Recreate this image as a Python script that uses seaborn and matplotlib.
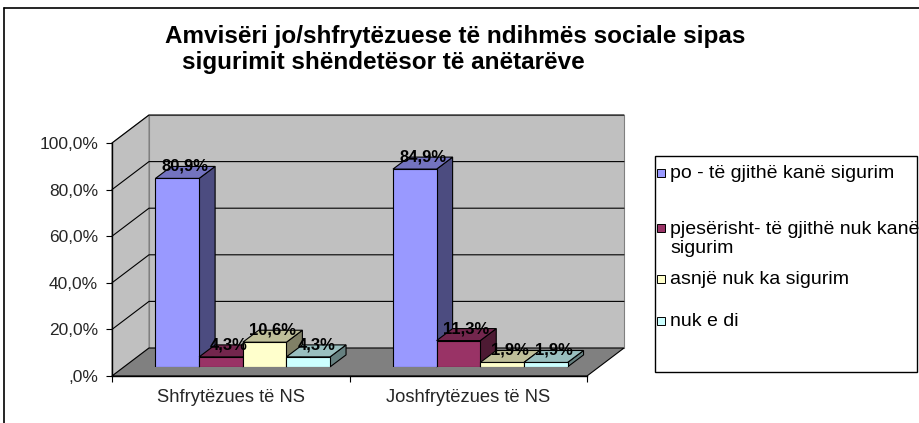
import numpy as np
import pandas as pd
import matplotlib
matplotlib.use("Agg")
import matplotlib.pyplot as plt
import seaborn as sns
from matplotlib.patches import Polygon, Rectangle
from matplotlib.lines import Line2D

# ---------------- data ----------------
categories = ["Shfrytëzues të NS", "Joshfrytëzues të NS"]
series = ["po - të gjithë kanë sigurim",
          "pjesërisht- të gjithë nuk kanë\nsigurim",
          "asnjë nuk ka sigurim",
          "nuk e di"]
v_po = [80.9, 84.9]
v_pjeserisht = [4.3, 11.3]
v_asnje = [10.6, 1.9]
v_nukedi = [4.3, 1.9]
yticks = [0, 20, 40, 60, 80, 100]
ytick_labels = [",0%", "20,0%", "40,0%", "60,0%", "80,0%", "100,0%"]
title_line1 = "Amvisëri jo/shfrytëzuese të ndihmës sociale sipas"
title_line2 = "sigurimit shëndetësor të anëtarëve"

colors = ["#9999FF", "#993366", "#FFFFCC", "#CCFFFF"]
side_colors = ["#4C4C80", "#4D1A33", "#808066", "#668080"]
top_colors = ["#7373BF", "#73264D", "#BFBF99", "#99BFBF"]

rows = []
for s, vals in zip(series, [v_po, v_pjeserisht, v_asnje, v_nukedi]):
    for c, v in zip(categories, vals):
        rows.append({"cat": c, "series": s, "val": v})
df = pd.DataFrame(rows)

# ---------------- figure ----------------
sns.set_theme(style="white")
plt.rcParams["font.family"] = ["Liberation Sans", "DejaVu Sans"]

W, H, DPI = 919, 423, 100
fig = plt.figure(figsize=(W / DPI, H / DPI), dpi=DPI)
fig.patch.set_facecolor("white")

def fy(py):
    return 1 - py / H

DEPTH = np.array([37.0, 28.0])      # px, front plane -> back plane
BAR_T = 12.0 / 37.0                  # bar plane depth fraction
BAR_D = np.array([16.0, 12.0])       # bar depth in px

# front plane axes (axis lines, ticks, walls)
axf = fig.add_axes([112 / W, (H - 376) / H, 475 / W, 233 / H])
# bar plane axes
off = DEPTH * BAR_T
ax = fig.add_axes([(112 + off[0]) / W, (H - 376 + off[1]) / H, 475 / W, 233 / H])
ax.set_zorder(axf.get_zorder() + 1)
for a in (axf, ax):
    a.set_xlim(-0.5, 1.5)
    a.set_ylim(0, 100)
    a.patch.set_visible(False)

inv = fig.transFigure.inverted()

def P(x, y, t):
    d = axf.transData.transform((x, y)) + DEPTH * t
    return inv.transform(d)

def add_poly(a, pts, fc, ec, lw, z):
    a.add_patch(Polygon(np.array(pts), closed=True, facecolor=fc, edgecolor=ec,
                        linewidth=lw, transform=fig.transFigure, clip_on=False,
                        zorder=z))

# walls and floor
x0, x1 = -0.5, 1.5
add_poly(axf, [P(x0, 0, 1), P(x1, 0, 1), P(x1, 100, 1), P(x0, 100, 1)],
         "#C0C0C0", "#808080", 0.8, 0.5)
add_poly(axf, [P(x0, 0, 0), P(x0, 100, 0), P(x0, 100, 1), P(x0, 0, 1)],
         "#C0C0C0", "#808080", 0.8, 0.5)
for yv in yticks[1:]:
    pts = np.array([P(x0, yv, 0), P(x0, yv, 1), P(x1, yv, 1)])
    axf.add_line(Line2D(pts[:, 0], pts[:, 1], color="black", lw=0.8,
                        transform=fig.transFigure, clip_on=False, zorder=0.7))
add_poly(axf, [P(x0, 0, 0), P(x1, 0, 0), P(x1, 0, 1), P(x0, 0, 1)],
         "#808080", "black", 0.8, 0.8)

# front axes styling
for sp in ["top", "right"]:
    axf.spines[sp].set_visible(False)
for sp in ["left", "bottom"]:
    axf.spines[sp].set_color("black")
    axf.spines[sp].set_linewidth(1.0)
    axf.spines[sp].set_zorder(3)
axf.set_yticks(yticks)
axf.set_yticklabels(ytick_labels, fontsize=12.5)
axf.set_xticks([-0.5, 0.5, 1.5])
axf.set_xticklabels(["", "", ""])
axf.set_xticks([0, 1], minor=True)
axf.set_xticklabels(categories, minor=True, fontsize=13.2)
axf.tick_params(axis="y", which="major", direction="out", length=4, width=0.8,
                color="black", pad=6, left=True)
axf.tick_params(axis="x", which="major", direction="out", length=4, width=0.8,
                color="black", bottom=True)
axf.tick_params(axis="x", which="minor", length=0, pad=9)
axf.grid(False)
axf.set_xlabel("")
axf.set_ylabel("")

# bars
sns.barplot(data=df, x="cat", y="val", hue="series", order=categories,
            hue_order=series, palette=colors, width=0.735, saturation=1,
            edgecolor="black", linewidth=0.8, errorbar=None, legend=False, ax=ax)
ax.set_xlim(-0.5, 1.5)
ax.set_ylim(0, 100)
ax.axis("off")

bars = sorted(ax.patches, key=lambda p: p.get_x())
color_index = {matplotlib.colors.to_hex(c): i for i, c in enumerate(colors)}
for k, p in enumerate(bars):
    bx, bw, bh = p.get_x(), p.get_width(), p.get_height()
    ci = color_index[matplotlib.colors.to_hex(p.get_facecolor())]
    base = 2 + 2 * k
    p.set_zorder(base + 1)
    fl = ax.transData.transform((bx, 0))
    fr = ax.transData.transform((bx + bw, 0))
    tl = ax.transData.transform((bx, bh))
    tr = ax.transData.transform((bx + bw, bh))
    side = [fr, tr, tr + BAR_D, fr + BAR_D]
    top = [tl, tr, tr + BAR_D, tl + BAR_D]
    for pts, fc in [(side, side_colors[ci]), (top, top_colors[ci])]:
        ax.add_patch(Polygon(inv.transform(np.array(pts)), closed=True,
                             facecolor=fc, edgecolor="black", linewidth=0.8,
                             transform=fig.transFigure, clip_on=False, zorder=base))
    lab = f"{bh:.1f}%".replace(".", ",")
    ax.annotate(lab, (bx + bw / 2, bh), xytext=(8, 12), textcoords="offset pixels",
                ha="center", va="center", fontsize=12, fontweight="bold",
                color="black", zorder=100, annotation_clip=False)

# title
fig.text(165 / W, fy(36), title_line1, ha="left", va="center", fontsize=17.5,
         fontweight="bold", color="black")
fig.text(182 / W, fy(63), title_line2, ha="left", va="center", fontsize=17.5,
         fontweight="bold", color="black")

# legend (manual, Excel style)
fig.add_artist(Rectangle((655 / W, fy(372)), (917 - 655) / W, (372 - 156) / H,
                         facecolor="white", edgecolor="black", linewidth=1.0,
                         transform=fig.transFigure))
leg_y = [173, 239, 279, 321]
for s, c, yy in zip(series, colors, leg_y):
    sq_y = yy - 11 if "\n" in s else yy
    fig.add_artist(Rectangle((657 / W, fy(sq_y + 4)), 8 / W, 8 / H,
                             facecolor=c, edgecolor="black", linewidth=0.7,
                             transform=fig.transFigure))
    fig.text(670 / W, fy(yy), s, ha="left", va="center", fontsize=14,
             linespacing=1.15, color="black")

# outer frame
fig.add_artist(Line2D([4 / W, 4 / W], [0, fy(8)], color="black", lw=1.2,
                      transform=fig.transFigure))
fig.add_artist(Line2D([4 / W, 1], [fy(8), fy(8)], color="black", lw=1.2,
                      transform=fig.transFigure))

fig.savefig("out.png", dpi=DPI, facecolor="white")
